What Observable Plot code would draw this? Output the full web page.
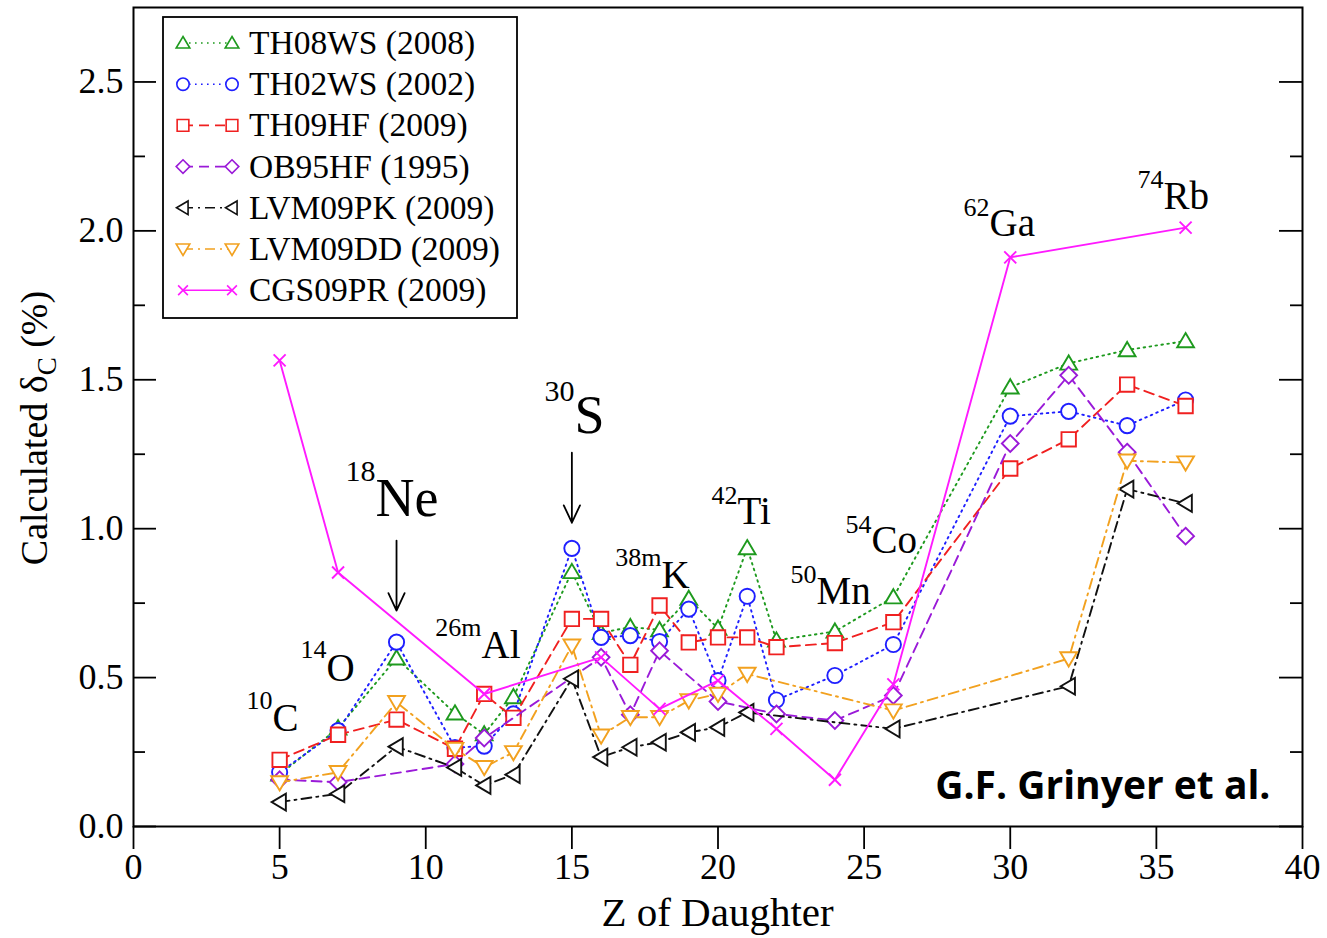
<!DOCTYPE html>
<html><head><meta charset="utf-8">
<script src="https://cdn.jsdelivr.net/npm/d3@7"></script>
<script src="https://cdn.jsdelivr.net/npm/@observablehq/plot@0.6"></script>
<style>
html,body{margin:0;padding:0;background:#fff;}
#chart{width:1327px;height:938px;}
</style></head><body><div id="chart"></div>
<script>
// ---------- data (Z of daughter, calculated deltaC in %) ----------
const th08wsZ = [5,7,9,11,12,13,15,16,17,18,19,20,21,22,24,26,30,32,34,36];
const th08wsDelta = [0.175,0.33,0.565,0.38,0.31,0.435,0.855,0.65,0.67,0.66,0.765,0.665,0.935,0.625,0.655,0.77,1.475,1.555,1.60,1.63];

const th02wsZ = [5,7,9,11,12,13,15,16,17,18,19,20,21,22,24,26,30,32,34,36];
const th02wsDelta = [0.182,0.322,0.619,0.265,0.27,0.378,0.934,0.635,0.641,0.621,0.73,0.49,0.773,0.425,0.507,0.611,1.378,1.394,1.346,1.432];

const th09hfZ = [5,7,9,11,12,13,15,16,17,18,19,20,21,22,24,26,30,32,34,36];
const th09hfDelta = [0.224,0.308,0.359,0.261,0.445,0.365,0.697,0.697,0.543,0.742,0.618,0.635,0.635,0.602,0.616,0.686,1.202,1.30,1.484,1.412];

const ob95hfZ = [5,7,11,12,16,17,18,20,22,24,26,30,32,34,36];
const ob95hfDelta = [0.157,0.149,0.21,0.297,0.568,0.375,0.59,0.42,0.378,0.356,0.44,1.286,1.515,1.257,0.975];

const lvm09pkZ = [5,7,9,11,12,13,15,16,17,18,19,20,21,26,32,34,36];
const lvm09pkDelta = [0.082,0.110,0.268,0.198,0.138,0.174,0.496,0.233,0.266,0.283,0.316,0.333,0.383,0.328,0.471,1.133,1.085];

const lvm09ddZ = [5,7,9,11,12,13,15,16,17,18,19,20,21,26,32,34,36];
const lvm09ddDelta = [0.148,0.182,0.417,0.26,0.199,0.249,0.607,0.305,0.367,0.367,0.423,0.445,0.512,0.389,0.564,1.228,1.222];

const cgs09prZ = [5,7,12,16,18,20,22,24,26,30,36];
const cgs09prDelta = [1.565,0.853,0.445,0.568,0.395,0.49,0.328,0.157,0.477,1.911,2.011];

const seriesNames = ["TH08WS (2008)","TH02WS (2002)","TH09HF (2009)","OB95HF (1995)","LVM09PK (2009)","LVM09DD (2009)","CGS09PR (2009)"];

const xTicks = [0,5,10,15,20,25,30,35,40];
const yTicks = [0,0.5,1.0,1.5,2.0,2.5];
const yMinorTicks = [0.25,0.75,1.25,1.75,2.25];

// isotope annotations: superscript, element, anchor Z, element baseline, superscript baseline
const isoSup  = ["10","14","18","26m","30","38m","42","50","54","62","74"];
const isoElem = ["C","O","Ne","Al","S","K","Ti","Mn","Co","Ga","Rb"];
const isoZ    = [4.76,6.60,8.28,11.91,15.09,18.07,20.67,23.37,25.25,29.29,35.24];
const isoBase = [0.322,0.490,1.044,0.567,1.322,0.802,1.017,0.748,0.919,1.983,2.074];
const isoSupBase = [0.396,0.567,1.161,0.641,1.430,0.876,1.084,0.819,0.987,2.050,2.144];
const isoBig  = [false,false,true,false,true,false,false,false,false,false,false];

// arrows (Z, from delta, to delta)
const arrowZ = [9,15];
const arrowFrom = [0.96,1.255];
const arrowTo = [0.725,1.02];

// ---------- symbols ----------
const R = s => Math.sqrt(s/Math.PI);
const symTriUp = {draw(c,s){const r=R(s); c.moveTo(0,-r*1.0); c.lineTo(r*1.05,r*0.78); c.lineTo(-r*1.05,r*0.78); c.closePath();}};
const symTriDown = {draw(c,s){const r=R(s); c.moveTo(0,r*1.0); c.lineTo(r*1.05,-r*0.78); c.lineTo(-r*1.05,-r*0.78); c.closePath();}};
const symTriLeft = {draw(c,s){const r=R(s); c.moveTo(-r*1.0,0); c.lineTo(r*0.78,-r*1.05); c.lineTo(r*0.78,r*1.05); c.closePath();}};
const symSquare = {draw(c,s){const r=R(s)*0.9; c.moveTo(-r,-r); c.lineTo(r,-r); c.lineTo(r,r); c.lineTo(-r,r); c.closePath();}};
const symDiamond = {draw(c,s){const r=R(s)*1.05; c.moveTo(0,-r); c.lineTo(r,0); c.lineTo(0,r); c.lineTo(-r,0); c.closePath();}};
const symCircle = {draw(c,s){const r=R(s)*0.95; c.moveTo(r,0); c.arc(0,0,r,0,2*Math.PI);}};
const symTimes = {draw(c,s){const r=R(s)*0.75; c.moveTo(-r,-r); c.lineTo(r,r); c.moveTo(r,-r); c.lineTo(-r,r);}};

const seriesData = [
  [th08wsZ, th08wsDelta],[th02wsZ, th02wsDelta],[th09hfZ, th09hfDelta],[ob95hfZ, ob95hfDelta],
  [lvm09pkZ, lvm09pkDelta],[lvm09ddZ, lvm09ddDelta],[cgs09prZ, cgs09prDelta]
];
const seriesStyle = [
  {color:"#1e9a1e", dash:"1.6,4.4", sym:symTriUp},
  {color:"#1f1fff", dash:"1.6,4.4", sym:symCircle},
  {color:"#f02020", dash:"10,6", sym:symSquare},
  {color:"#9a1ad8", dash:"10,6", sym:symDiamond},
  {color:"#111111", dash:"10,5,2,5", sym:symTriLeft},
  {color:"#f2a11f", dash:"10,5,2,5", sym:symTriDown},
  {color:"#ff1aff", dash:null, sym:symTimes}
];

const W = 1327, H = 938;
const mL = 133, mR = 25, mT = 7, mB = 112;
const frameW = W - mL - mR;

const marks = [];
seriesData.forEach(([zs, vs], i) => {
  const st = seriesStyle[i];
  const data = zs.map((z, j) => ({z, d: vs[j]}));
  marks.push(Plot.line(data, {x:"z", y:"d", stroke: st.color, strokeWidth: 1.9, strokeDasharray: st.dash || undefined}));
  marks.push(Plot.dot(data, {x:"z", y:"d", symbol: st.sym, r: 8, stroke: st.color, fill: "white", strokeWidth: 1.9}));
});

const isoData = isoSup.map((s,i)=>({sup:s, el:isoElem[i], z:isoZ[i], b:isoBase[i], sb:isoSupBase[i], big:isoBig[i]}));
const arrowData = arrowZ.map((z,i)=>({z, y1:arrowFrom[i], y2:arrowTo[i]}));

const plot = Plot.plot({
  width: W, height: H,
  marginLeft: mL, marginRight: mR, marginTop: mT, marginBottom: mB,
  style: {fontFamily: "'Liberation Serif', 'DejaVu Serif', serif", fontSize: "36px", color: "black", background: "white"},
  x: {domain: [0, 40], ticks: xTicks, tickSize: 23, tickPadding: 4, tickFormat: d3.format("d"), label: null},
  y: {domain: [0, 2.75], ticks: yTicks, tickSize: 0, tickPadding: 10, tickFormat: d3.format(".1f"), label: null},
  marks: [
    Plot.tickY(yTicks, {y: d => d, insetRight: frameW - 23, stroke: "black", strokeWidth: 1.8}),
    Plot.tickY(yMinorTicks, {y: d => d, insetRight: frameW - 12, stroke: "black", strokeWidth: 1.8}),
    Plot.tickY(yTicks, {y: d => d, insetLeft: frameW - 23, stroke: "black", strokeWidth: 1.8}),
    Plot.tickY(yMinorTicks, {y: d => d, insetLeft: frameW - 12, stroke: "black", strokeWidth: 1.8}),
    ...marks,
    Plot.text(isoData, {x:"z", y:"sb", text:"sup", textAnchor:"end", lineAnchor:"bottom", fontSize: d => d.big ? 30 : 26, fill:"black"}),
    Plot.text(isoData, {x:"z", y:"b", text:"el", textAnchor:"start", lineAnchor:"bottom", fontSize: d => d.big ? 54 : 39, fill:"black"}),
    Plot.arrow(arrowData, {x:"z", y1:"y1", y2:"y2", stroke:"black", strokeWidth:1.8, headLength: 16, headAngle: 50}),
    Plot.text(["G.F. Grinyer et al."], {frameAnchor:"bottom-right", dx:-32, dy:-28, textAnchor:"end", lineAnchor:"bottom", fontFamily:"'Open Sans', Lato, sans-serif", fontWeight:"bold", fontSize: 39, fill:"black"}),
    Plot.frame({stroke:"black", strokeWidth: 2})
  ]
});

d3.select(plot).selectAll("g[aria-label='x-axis tick'] path").attr("stroke-width", 1.8);

const svg = d3.select(plot);
svg.append("text").attr("x", (mL + W - mR)/2).attr("y", 926).attr("text-anchor","middle")
  .style("font-size","41px").attr("fill","black").text("Z of Daughter");
const yt = svg.append("text").attr("transform","translate(47,428) rotate(-90)").attr("text-anchor","middle")
  .style("font-size","38px").attr("fill","black");
yt.append("tspan").text("Calculated δ");
yt.append("tspan").attr("dy", 9).style("font-size","27px").text("C");
yt.append("tspan").attr("dy", -9).text(" (%)");

// legend
const lg = svg.append("g").attr("text-anchor","start");
const lx = 163, ly = 17, lw = 354, lh = 301;
lg.append("rect").attr("x", lx).attr("y", ly).attr("width", lw).attr("height", lh)
  .attr("fill","white").attr("stroke","black").attr("stroke-width",1.8);
seriesNames.forEach((name, i) => {
  const st = seriesStyle[i];
  const cy = 43 + i*41.2;
  lg.append("line").attr("x1", 183).attr("x2", 232).attr("y1", cy).attr("y2", cy)
    .attr("stroke", st.color).attr("stroke-width", 1.6).attr("stroke-dasharray", st.dash || null);
  [183, 232].forEach(cx => {
    lg.append("path").attr("d", d3.symbol(st.sym, 6.5*6.5*Math.PI)())
      .attr("transform", `translate(${cx},${cy})`).attr("fill","white").attr("stroke", st.color).attr("stroke-width",1.6);
  });
  lg.append("text").attr("x", 249).attr("y", cy + 11).attr("text-anchor","start")
    .style("font-size","33.5px").attr("fill","black").text(name);
});

document.getElementById("chart").append(plot);
</script>
</body></html>
